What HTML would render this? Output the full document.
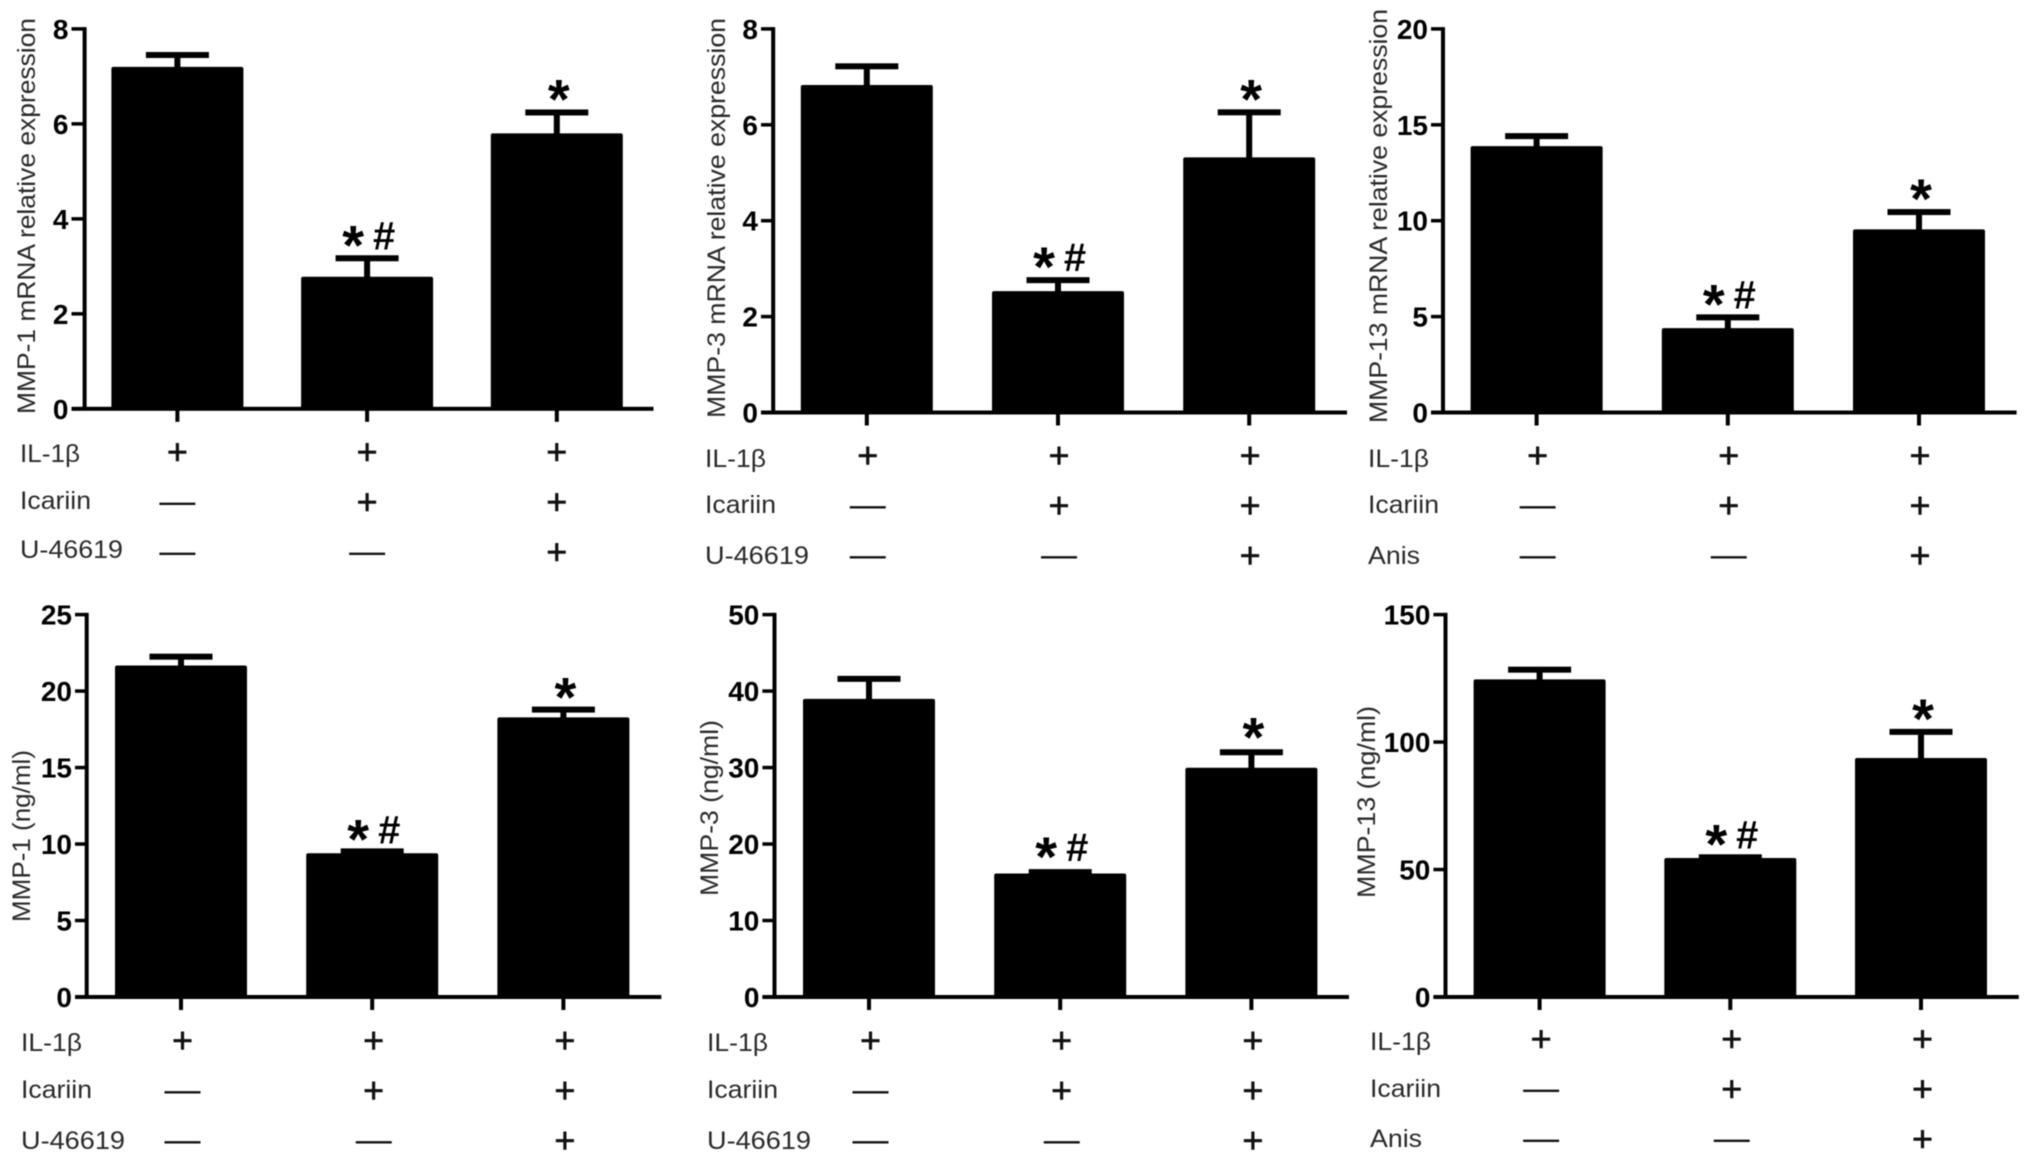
<!DOCTYPE html>
<html lang="en">
<head>
<meta charset="utf-8">
<title>MMP expression bar charts</title>
<style>
  html, body { margin: 0; padding: 0; background: #fff; }
  svg { display: block; filter: blur(0.5px); }
  text { font-family: "Liberation Sans", "DejaVu Sans", sans-serif; }
  .y-title, .row-label { fill: #2a2a2a; }
  .y-title { font-size: 25px; }
  .row-label { font-size: 25px; }
</style>
</head>
<body>
<svg id="figure" xmlns="http://www.w3.org/2000/svg" width="2031" height="1162" viewBox="0 0 2031 1162">
  <rect x="0" y="0" width="2031" height="1162" fill="#fff"/>

  <g id="panel-0">
    <text class="y-title" transform="translate(35,414) rotate(-90)" textLength="396" lengthAdjust="spacingAndGlyphs">MMP-1 mRNA relative expression</text>
    <text class="row-label" x="20" y="462" textLength="60" lengthAdjust="spacingAndGlyphs">IL-1β</text>
    <text class="row-label" x="20" y="509" textLength="71" lengthAdjust="spacingAndGlyphs">Icariin</text>
    <text class="row-label" x="20" y="558" textLength="103" lengthAdjust="spacingAndGlyphs">U-46619</text>
  </g>
  <g id="panel-1">
    <text class="y-title" transform="translate(725,418) rotate(-90)" textLength="400" lengthAdjust="spacingAndGlyphs">MMP-3 mRNA relative expression</text>
    <text class="row-label" x="705" y="467" textLength="61" lengthAdjust="spacingAndGlyphs">IL-1β</text>
    <text class="row-label" x="705" y="513" textLength="71" lengthAdjust="spacingAndGlyphs">Icariin</text>
    <text class="row-label" x="705" y="564" textLength="104" lengthAdjust="spacingAndGlyphs">U-46619</text>
  </g>
  <g id="panel-2">
    <text class="y-title" transform="translate(1387,423) rotate(-90)" textLength="414" lengthAdjust="spacingAndGlyphs">MMP-13 mRNA relative expression</text>
    <text class="row-label" x="1368" y="467" textLength="61" lengthAdjust="spacingAndGlyphs">IL-1β</text>
    <text class="row-label" x="1368" y="513" textLength="71" lengthAdjust="spacingAndGlyphs">Icariin</text>
    <text class="row-label" x="1368" y="564" textLength="52" lengthAdjust="spacingAndGlyphs">Anis</text>
  </g>
  <g id="panel-3">
    <text class="y-title" transform="translate(30,922) rotate(-90)" textLength="172" lengthAdjust="spacingAndGlyphs">MMP-1 (ng/ml)</text>
    <text class="row-label" x="21" y="1051" textLength="61" lengthAdjust="spacingAndGlyphs">IL-1β</text>
    <text class="row-label" x="21" y="1098" textLength="71" lengthAdjust="spacingAndGlyphs">Icariin</text>
    <text class="row-label" x="21" y="1149" textLength="104" lengthAdjust="spacingAndGlyphs">U-46619</text>
  </g>
  <g id="panel-4">
    <text class="y-title" transform="translate(718,896) rotate(-90)" textLength="176" lengthAdjust="spacingAndGlyphs">MMP-3 (ng/ml)</text>
    <text class="row-label" x="707" y="1051" textLength="61" lengthAdjust="spacingAndGlyphs">IL-1β</text>
    <text class="row-label" x="707" y="1098" textLength="71" lengthAdjust="spacingAndGlyphs">Icariin</text>
    <text class="row-label" x="707" y="1149" textLength="104" lengthAdjust="spacingAndGlyphs">U-46619</text>
  </g>
  <g id="panel-5">
    <text class="y-title" transform="translate(1375,898) rotate(-90)" textLength="192" lengthAdjust="spacingAndGlyphs">MMP-13 (ng/ml)</text>
    <text class="row-label" x="1370" y="1050" textLength="61" lengthAdjust="spacingAndGlyphs">IL-1β</text>
    <text class="row-label" x="1370" y="1097" textLength="71" lengthAdjust="spacingAndGlyphs">Icariin</text>
    <text class="row-label" x="1370" y="1147" textLength="52" lengthAdjust="spacingAndGlyphs">Anis</text>
  </g>
</svg>

<script>
// Values: bar means and top of error whisker.
const mmp1MrnaMeans = [7.2, 2.78, 5.8];
const mmp1MrnaUpper = [7.45, 3.17, 6.24];
const mmp1MrnaTicks = [0, 2, 4, 6, 8];

const mmp3MrnaMeans = [6.83, 2.53, 5.32];
const mmp3MrnaUpper = [7.22, 2.76, 6.26];
const mmp3MrnaTicks = [0, 2, 4, 6, 8];

const mmp13MrnaMeans = [13.89, 4.4, 9.55];
const mmp13MrnaUpper = [14.41, 4.96, 10.45];
const mmp13MrnaTicks = [0, 5, 10, 15, 20];

const mmp1ProteinMeans = [21.67, 9.4, 18.28];
const mmp1ProteinUpper = [22.25, 9.52, 18.79];
const mmp1ProteinTicks = [0, 5, 10, 15, 20, 25];

const mmp3ProteinMeans = [38.98, 16.15, 29.98];
const mmp3ProteinUpper = [41.6, 16.33, 32.0];
const mmp3ProteinTicks = [0, 10, 20, 30, 40, 50];

const mmp13ProteinMeans = [124.6, 54.5, 93.75];
const mmp13ProteinUpper = [128.4, 54.8, 104];
const mmp13ProteinTicks = [0, 50, 100, 150];

const categories = ['il1b-only', 'il1b-icariin', 'il1b-icariin-agonist'];
const significance = ['', '*#', '*'];
const il1bRow = ['+', '+', '+'];
const icariinRow = ['—', '+', '+'];
const agonistRow = ['—', '—', '+'];
const treatmentRows = [il1bRow, icariinRow, agonistRow];

const panels = [
  { means: mmp1MrnaMeans, upper: mmp1MrnaUpper, ticks: mmp1MrnaTicks,
    axisX: 84.6, y0: 408.8, yTop: 28.9, left: 71.5, right: 653.5, first: 177.4, step: 189.7, symDx: 0, symY: 452, symStep: 50, markDy: 0 },
  { means: mmp3MrnaMeans, upper: mmp3MrnaUpper, ticks: mmp3MrnaTicks,
    axisX: 773.2, y0: 412.5, yTop: 28.9, left: 761, right: 1347, first: 866.8, step: 191.2, symDx: 1, symY: 455.5, symStep: 50, markDy: 0 },
  { means: mmp13MrnaMeans, upper: mmp13MrnaUpper, ticks: mmp13MrnaTicks,
    axisX: 1443, y0: 412.5, yTop: 28.9, left: 1431, right: 2016.6, first: 1536.6, step: 191.2, symDx: 1, symY: 455.5, symStep: 50, markDy: 0 },
  { means: mmp1ProteinMeans, upper: mmp1ProteinUpper, ticks: mmp1ProteinTicks,
    axisX: 86.7, y0: 997, yTop: 614.6, left: 75, right: 661.3, first: 181, step: 191.2, symDx: 1.5, symY: 1040.5, symStep: 50, markDy: 1 },
  { means: mmp3ProteinMeans, upper: mmp3ProteinUpper, ticks: mmp3ProteinTicks,
    axisX: 774.5, y0: 997, yTop: 614.6, left: 762.4, right: 1349, first: 869, step: 191.2, symDx: 1.5, symY: 1040.5, symStep: 50, markDy: -2 },
  { means: mmp13ProteinMeans, upper: mmp13ProteinUpper, ticks: mmp13ProteinTicks,
    axisX: 1445.5, y0: 997, yTop: 614.6, left: 1433.4, right: 2018.8, first: 1539.6, step: 190.7, symDx: 1.5, symY: 1039, symStep: 50, markDy: 0 }
];

const SVG_NS = 'http://www.w3.org/2000/svg';
const BAR_WIDTH = 132;
const CAP_WIDTH = 63;

function make(tag, attrs, content) {
  const el = document.createElementNS(SVG_NS, tag);
  for (const key in attrs) el.setAttribute(key, attrs[key]);
  if (content !== undefined) el.textContent = content;
  return el;
}

panels.forEach(function (p, idx) {
  const group = document.getElementById('panel-' + idx);
  const maxTick = p.ticks[p.ticks.length - 1];
  const yScale = function (v) { return p.y0 - (v / maxTick) * (p.y0 - p.yTop); };
  const xBand = function (i) { return p.first + i * p.step; };

  p.means.forEach(function (mean, i) {
    const xc = xBand(i);
    const yMean = yScale(mean);
    const yUp = yScale(p.upper[i]);

    const stem = make('rect', { x: xc - 3, y: yUp, width: 6, height: Math.max(yMean - yUp, 0) + 2, fill: '#000' });
    
    
    group.appendChild(stem);

    const cap = make('rect', { x: xc - CAP_WIDTH / 2, y: yUp - 3, width: CAP_WIDTH, height: 6, fill: '#000' });
    
    
    group.appendChild(cap);

    const bar = make('rect', { x: xc - BAR_WIDTH / 2, y: yMean, width: BAR_WIDTH, height: p.y0 - yMean, rx: 2, fill: '#000' });
    
    
    group.appendChild(bar);

    const xTick = make('rect', { x: xc - 2, y: p.y0, width: 4, height: 13, fill: '#000' });
    
    
    group.appendChild(xTick);

    const mark = significance[i];
    if (mark) {
      const cy = yUp - 22 + p.markDy;
      const hasHash = mark.indexOf('#') >= 0;
      const star = make('text', { x: hasHash ? xc - 14 : xc + 2, y: cy + 28, 'font-size': 56, 'font-weight': 700, 'text-anchor': 'middle', fill: '#000' }, '*');
      
      
      group.appendChild(star);
      if (hasHash) {
        const hash = make('text', { x: xc + 17, y: cy + 13, 'font-size': 40, 'font-weight': 700, 'text-anchor': 'middle', fill: '#000' }, '#');
        
        
        group.appendChild(hash);
      }
    }

    treatmentRows.forEach(function (row, r) {
      const sym = row[i];
      const cy = p.symY + r * p.symStep;
      const isPlus = sym === '+';
      const t = make('text', {
        x: xc + p.symDx,
        y: cy + (isPlus ? 12 : 11),
        'font-size': 36,
        'font-weight': 400,
        'text-anchor': 'middle',
        fill: '#111',
        stroke: isPlus ? '#111' : 'none',
        'stroke-width': isPlus ? 0.6 : 0
      }, sym);
      
      
      group.appendChild(t);
    });
  });

  const yAxis = make('rect', { x: p.axisX - 2, y: p.yTop - 1.75, width: 4, height: p.y0 - p.yTop + 3.5, fill: '#000' });
  
  
  group.appendChild(yAxis);

  const xAxis = make('rect', { x: p.left, y: p.y0 - 2, width: p.right - p.left, height: 4, fill: '#000' });
  
  
  group.appendChild(xAxis);

  p.ticks.forEach(function (tick) {
    const y = yScale(tick);
    const tickMark = make('rect', { x: p.left, y: y - 1.75, width: p.axisX - p.left, height: 3.5, fill: '#000' });
    
    
    group.appendChild(tickMark);

    const label = make('text', { x: p.left - 3, y: y + 10, 'font-size': 28, 'font-weight': 700, 'text-anchor': 'end', fill: '#000' }, String(tick));
    
    
    group.appendChild(label);
  });
});
</script>
</body>
</html>
